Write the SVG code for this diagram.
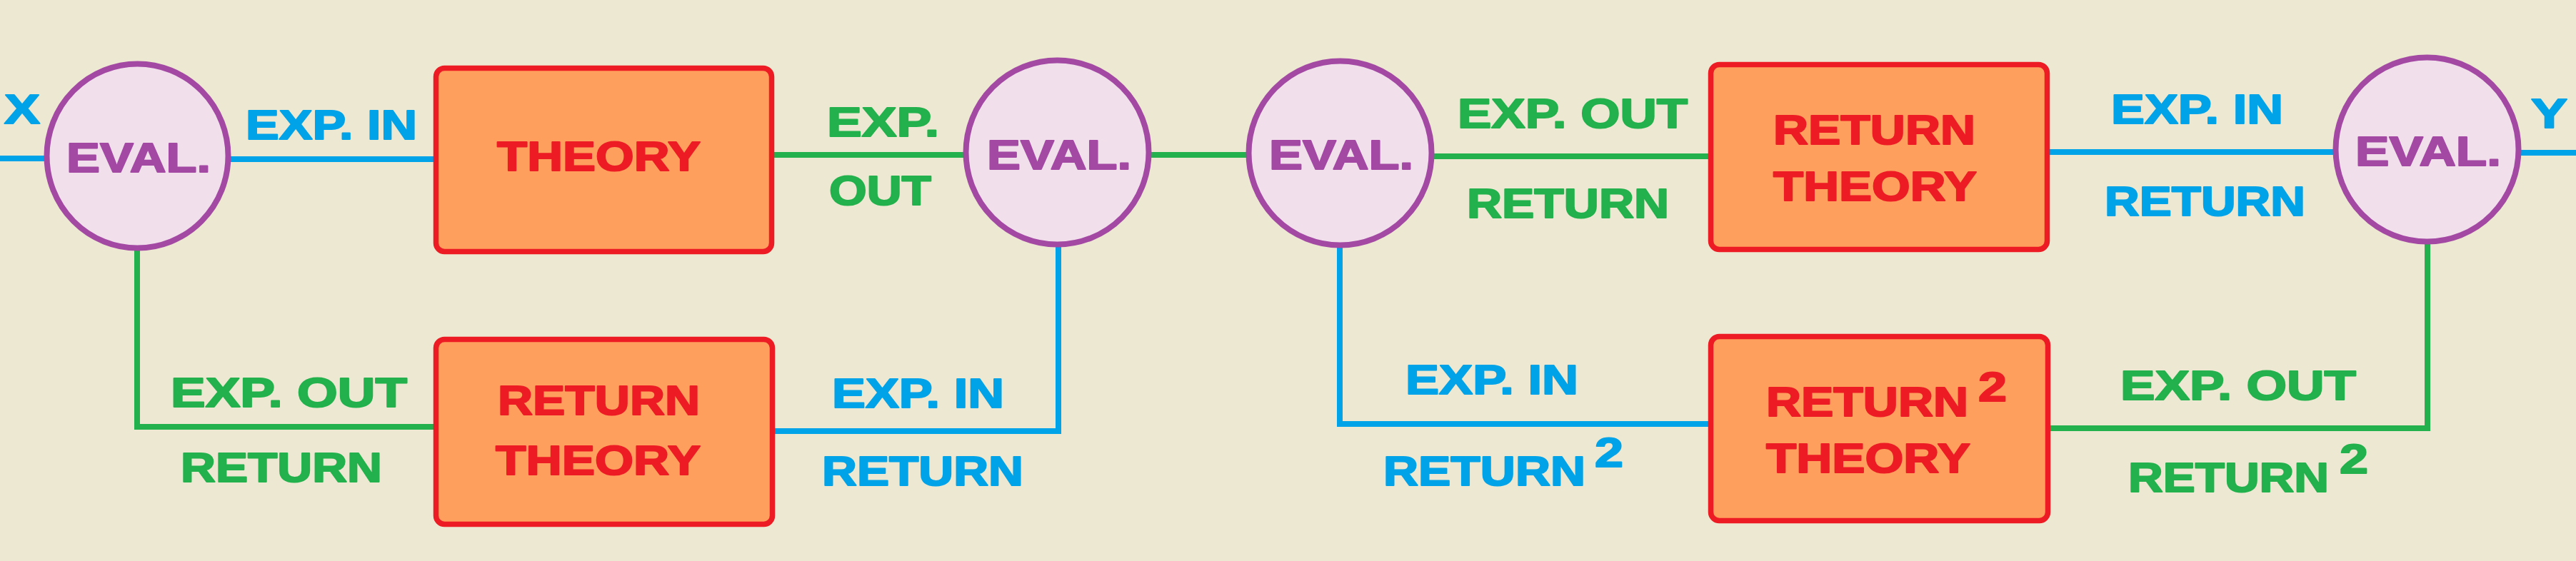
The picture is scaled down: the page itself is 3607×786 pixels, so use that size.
<svg xmlns="http://www.w3.org/2000/svg" width="3607" height="786" viewBox="0 0 3607 786">
<style>
text{font-family:"Liberation Sans",Arial,sans-serif;font-weight:bold;font-size:58px;stroke-width:2;stroke-linejoin:round}
.ev ellipse{fill:#F1E0EC;stroke:#A349A4;stroke-width:8}
.ev text{fill:#A349A4;stroke:#A349A4}
.th rect{fill:#FF9F5E;stroke:#ED1C24;stroke-width:7.5}
.th text{fill:#ED1C24;stroke:#ED1C24}
#connectors path{fill:none;stroke-width:8;stroke-linejoin:miter}
.cb{stroke:#00A2E8}
.cg{stroke:#22B14C}
.tb{fill:#00A2E8;stroke:#00A2E8}
.tg{fill:#22B14C;stroke:#22B14C}
</style>
<rect x="0" y="0" width="3607" height="786" fill="#EDE8D1"/>
<g id="connectors">
<path class="cb" d="M0 222H66"/>
<path class="cb" d="M320 223H611"/>
<path class="cg" d="M1081 217H1352"/>
<path class="cg" d="M1609 217H1748"/>
<path class="cg" d="M2005 219H2396"/>
<path class="cb" d="M2867 213H3270"/>
<path class="cb" d="M3527 214H3607"/>
<path class="cg" d="M192 348V598H611"/>
<path class="cb" d="M1081 604H1482V343"/>
<path class="cb" d="M1876 344V594H2396"/>
<path class="cg" d="M2867 600H3399V339"/>
</g>
<g id="labels">
<text class="tb" x="6" y="173" textLength="50" lengthAdjust="spacingAndGlyphs">X</text>
<text class="tb" x="344" y="195" textLength="240" lengthAdjust="spacingAndGlyphs">EXP. IN</text>
<text class="tg" x="1158" y="191" textLength="157" lengthAdjust="spacingAndGlyphs">EXP.</text>
<text class="tg" x="1161" y="287" textLength="143" lengthAdjust="spacingAndGlyphs">OUT</text>
<text class="tg" x="2041" y="179" textLength="322" lengthAdjust="spacingAndGlyphs">EXP. OUT</text>
<text class="tg" x="2054" y="305" textLength="283" lengthAdjust="spacingAndGlyphs">RETURN</text>
<text class="tb" x="2956" y="173" textLength="241" lengthAdjust="spacingAndGlyphs">EXP. IN</text>
<text class="tb" x="2947" y="302" textLength="281" lengthAdjust="spacingAndGlyphs">RETURN</text>
<text class="tb" x="3544" y="179" textLength="51" lengthAdjust="spacingAndGlyphs">Y</text>
<text class="tg" x="239" y="570" textLength="331" lengthAdjust="spacingAndGlyphs">EXP. OUT</text>
<text class="tg" x="253" y="675" textLength="282" lengthAdjust="spacingAndGlyphs">RETURN</text>
<text class="tb" x="1165" y="571" textLength="241" lengthAdjust="spacingAndGlyphs">EXP. IN</text>
<text class="tb" x="1151" y="680" textLength="282" lengthAdjust="spacingAndGlyphs">RETURN</text>
<text class="tb" x="1968" y="552" textLength="242" lengthAdjust="spacingAndGlyphs">EXP. IN</text>
<text class="tb" x="1937" y="680" textLength="283" lengthAdjust="spacingAndGlyphs">RETURN</text>
<text class="tb" x="2233" y="654" textLength="40" lengthAdjust="spacingAndGlyphs">2</text>
<text class="tg" x="2969" y="560" textLength="330" lengthAdjust="spacingAndGlyphs">EXP. OUT</text>
<text class="tg" x="2980" y="689" textLength="281" lengthAdjust="spacingAndGlyphs">RETURN</text>
<text class="tg" x="3276" y="663" textLength="40" lengthAdjust="spacingAndGlyphs">2</text>
</g>
<g id="eval1" class="ev">
<ellipse cx="192.5" cy="218.5" rx="127" ry="129"/>
<text x="93" y="241" textLength="202" lengthAdjust="spacingAndGlyphs">EVAL.</text>
</g>
<g id="eval2" class="ev">
<ellipse cx="1480.5" cy="213.5" rx="128" ry="129"/>
<text x="1382" y="237" textLength="202" lengthAdjust="spacingAndGlyphs">EVAL.</text>
</g>
<g id="eval3" class="ev">
<ellipse cx="1876.5" cy="214.5" rx="128" ry="129"/>
<text x="1777" y="237" textLength="202" lengthAdjust="spacingAndGlyphs">EVAL.</text>
</g>
<g id="eval4" class="ev">
<ellipse cx="3398.5" cy="209.5" rx="128" ry="129"/>
<text x="3298" y="232" textLength="204" lengthAdjust="spacingAndGlyphs">EVAL.</text>
</g>
<g id="theory" class="th">
<rect x="610.5" y="95.5" width="470" height="257" rx="12"/>
<text x="696" y="239" textLength="285" lengthAdjust="spacingAndGlyphs">THEORY</text>
</g>
<g id="return-theory-1" class="th">
<rect x="610.5" y="475.5" width="471" height="259" rx="12"/>
<text x="697" y="581" textLength="283" lengthAdjust="spacingAndGlyphs">RETURN</text>
<text x="694" y="665" textLength="287" lengthAdjust="spacingAndGlyphs">THEORY</text>
</g>
<g id="return-theory-2" class="th">
<rect x="2395.5" y="90.5" width="471" height="259" rx="12"/>
<text x="2483" y="202" textLength="283" lengthAdjust="spacingAndGlyphs">RETURN</text>
<text x="2483" y="281" textLength="285" lengthAdjust="spacingAndGlyphs">THEORY</text>
</g>
<g id="return2-theory" class="th">
<rect x="2395.5" y="471.5" width="472" height="258" rx="12"/>
<text x="2473" y="583" textLength="283" lengthAdjust="spacingAndGlyphs">RETURN</text>
<text x="2770" y="562" textLength="40" lengthAdjust="spacingAndGlyphs">2</text>
<text x="2473" y="662" textLength="286" lengthAdjust="spacingAndGlyphs">THEORY</text>
</g>
</svg>
